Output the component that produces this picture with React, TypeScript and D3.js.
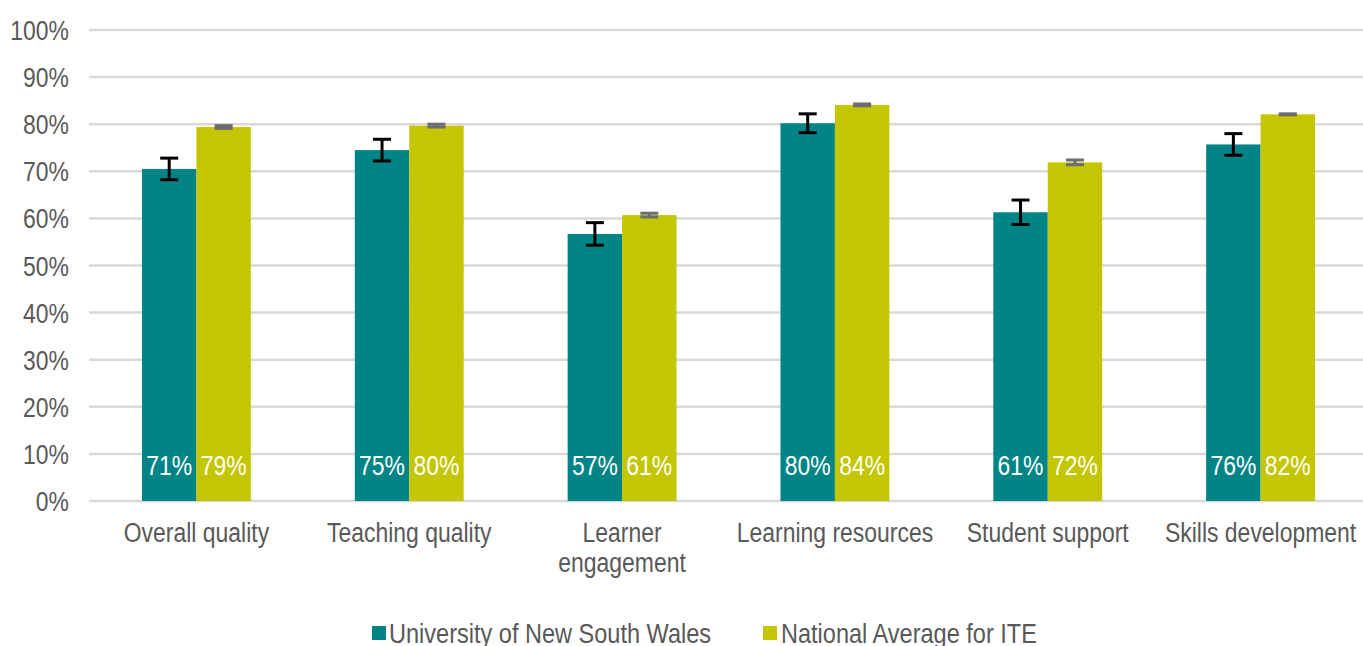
import * as d3 from 'd3';
import React from 'react';

const categories = ["Overall quality", "Teaching quality", "Learner engagement", "Learning resources", "Student support", "Skills development"];
const seriesNames = ["University of New South Wales", "National Average for ITE"];
const unswValues = [70.5, 74.5, 56.7, 80.2, 61.3, 75.7];
const unswErrors = [2.3, 2.3, 2.4, 2.0, 2.6, 2.3];
const nationalValues = [79.4, 79.7, 60.7, 84.1, 71.9, 82.1];
const nationalErrors = [0.3, 0.3, 0.4, 0.2, 0.5, 0.1];
const yTicks = [0, 10, 20, 30, 40, 50, 60, 70, 80, 90, 100];

const colors = ["#008486", "#c3c600"];
const errColors = ["#000000", "#6d6d6d"];

const width = 1363;
const height = 646;
const margin = { top: 30, right: -4, bottom: 145, left: 90 };
const font = "'Liberation Sans', Arial, sans-serif";
const squeeze = 0.85; // fake a condensed face

// narrow text: squeeze horizontally around its anchor point
function NText({ x, y, anchor = "start", size = 27, fill = "#595959", children }: any) {
  return (
    <g transform={`translate(${x},${y}) scale(${squeeze},1)`}>
      <text x={0} y={0} textAnchor={anchor} fontSize={size} fill={fill}>{children}</text>
    </g>
  );
}

export default function App() {
  const w = width - margin.left - margin.right;
  const h = height - margin.top - margin.bottom;

  const x = d3.scaleBand<string>().domain(categories).range([0, w]).paddingInner(0).paddingOuter(0);
  const xSub = d3.scaleBand<string>().domain(seriesNames).range([0, x.bandwidth()]).paddingInner(0).paddingOuter(0.955);
  const y = d3.scaleLinear().domain([0, 100]).range([h, 0]);

  const series = [
    { name: seriesNames[0], values: unswValues, errors: unswErrors },
    { name: seriesNames[1], values: nationalValues, errors: nationalErrors },
  ];

  const label = (c: string) => (c === "Learner engagement" ? ["Learner", "engagement"] : [c]);

  return (
    <div style={{ position: 'absolute', left: 0, top: 0 }}>
      <svg width={width} height={height} style={{ display: 'block', fontFamily: font }}>
        <g transform={`translate(${margin.left},${margin.top})`}>
          {yTicks.map(t => (
            <g key={t}>
              <line x1={-1} x2={w} y1={y(t)} y2={y(t)} stroke="#d9d9d9" strokeWidth={2.5} />
              <NText x={-21} y={y(t) + 10} anchor="end">{t}%</NText>
            </g>
          ))}
          {series.map((s, si) => (
            <g key={s.name}>
              {categories.map((c, i) => {
                const bx = (x(c) as number) + (xSub(s.name) as number);
                const bw = xSub.bandwidth();
                const v = s.values[i];
                const cx = bx + bw / 2;
                const e = s.errors[i];
                return (
                  <g key={c}>
                    <rect x={bx} y={y(v)} width={bw} height={h - y(v)} fill={colors[si]} />
                    <NText x={cx} y={y(0) - 26} anchor="middle" fill="#ffffff">{Math.round(v)}%</NText>
                    <g stroke={errColors[si]} strokeWidth={3}>
                      <line x1={cx} x2={cx} y1={y(v + e)} y2={y(v - e)} />
                      <line x1={cx - 9} x2={cx + 9} y1={y(v + e)} y2={y(v + e)} />
                      <line x1={cx - 9} x2={cx + 9} y1={y(v - e)} y2={y(v - e)} />
                    </g>
                  </g>
                );
              })}
            </g>
          ))}
          {categories.map(c =>
            label(c).map((l, li) => (
              <NText key={c + l} x={(x(c) as number) + x.bandwidth() / 2} y={h + 41 + li * 30} anchor="middle">{l}</NText>
            ))
          )}
        </g>
        <rect x={372} y={626} width={14} height={14} fill={colors[0]} />
        <NText x={389} y={643} size={27.7}>{seriesNames[0]}</NText>
        <rect x={763} y={626} width={14} height={14} fill={colors[1]} />
        <NText x={781} y={643} size={27.7}>{seriesNames[1]}</NText>
      </svg>
    </div>
  );
}
